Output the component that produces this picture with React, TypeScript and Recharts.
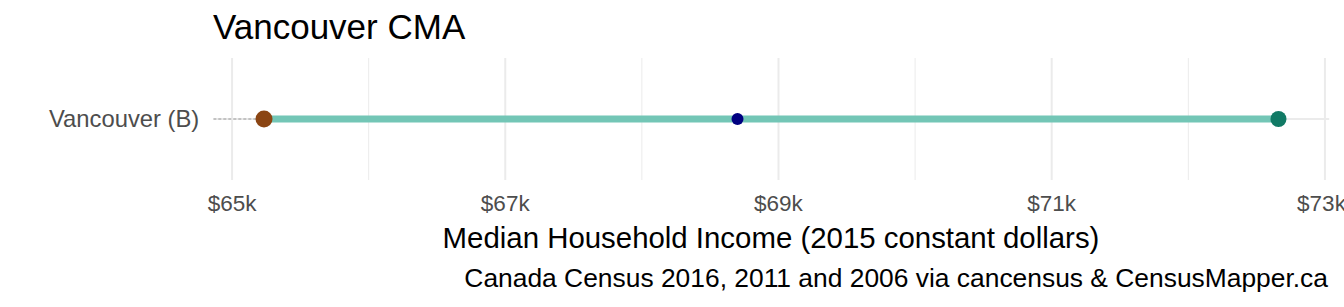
import { ScatterChart, Scatter, XAxis, YAxis, ReferenceLine } from "recharts";

const categories = ["Vancouver (B)"];
const income2016 = [65234];
const income2011 = [68700];
const income2006 = [72660];

const majorTicks = [65000, 67000, 69000, 71000, 73000];
const minorTicks = [66000, 68000, 70000, 72000];

const W = 1344;
const H = 307;
const FONT = "'Liberation Sans', Arial, Helvetica, sans-serif";
const GRID = "#ebebeb";

const allValues = [...income2016, ...income2011, ...income2006];
const lo = Math.min(...allValues);
const hi = Math.max(...allValues);
const pad = (hi - lo) * 0.05;
const domain: [number, number] = [lo - pad, hi + pad];

const rowIndex = categories.map((_, i) => i);
const pt = (vals: number[]) => vals.map((x, i) => ({ x, y: rowIndex[i] }));

const rangeData = categories.map((_, i) => [
  { x: Math.min(income2016[i], income2006[i]), y: i },
  { x: Math.max(income2016[i], income2006[i]), y: i },
]).flat();
const leadData = categories.map((_, i) => [
  { x: domain[0], y: i },
  { x: Math.min(income2016[i], income2011[i], income2006[i]), y: i },
]).flat();

const dot = (r: number, fill: string) => (p: any) => <circle cx={p.cx} cy={p.cy} r={r} fill={fill} />;
const noShape = () => <g />;

export default function App() {
  return (
    <div style={{ position: "absolute", left: 0, top: 0, width: W, height: H, background: "#fff", fontFamily: FONT }}>
      <ScatterChart width={W} height={H} margin={{ top: 58, right: 14.8, bottom: 0, left: 0 }}>
        {minorTicks.map((t) => (
          <ReferenceLine key={`mi${t}`} x={t} stroke={GRID} strokeWidth={1} />
        ))}
        {majorTicks.map((t) => (
          <ReferenceLine key={`ma${t}`} x={t} stroke={GRID} strokeWidth={2} />
        ))}
        {rowIndex.map((r) => (
          <ReferenceLine key={`row${r}`} y={r} stroke={GRID} strokeWidth={2} />
        ))}
        <XAxis
          type="number"
          dataKey="x"
          domain={domain}
          ticks={majorTicks}
          allowDataOverflow
          height={127}
          tickSize={0}
          tickMargin={15}
          axisLine={false}
          tickLine={false}
          tickFormatter={(v: number) => `$${v / 1000}k`}
          tick={{ fill: "#4d4d4d", fontSize: 22.5, fontFamily: FONT }}
        />
        <YAxis
          type="number"
          dataKey="y"
          domain={[-1, categories.length]}
          ticks={rowIndex}
          width={213.3}
          tickSize={0}
          tickMargin={14}
          axisLine={false}
          tickLine={false}
          tickFormatter={(v: number) => categories[v] ?? ""}
          tick={{ fill: "#4d4d4d", fontSize: 23.8, fontFamily: FONT }}
        />
        <Scatter
          data={leadData}
          line={{ stroke: "#9a9a9a", strokeWidth: 1, strokeDasharray: "3 2" }}
          shape={noShape}
          isAnimationActive={false}
        />
        <Scatter
          data={rangeData}
          line={{ stroke: "#73C6B6", strokeWidth: 7 }}
          shape={noShape}
          isAnimationActive={false}
        />
        <Scatter data={pt(income2016)} shape={dot(8.5, "#8B4513")} isAnimationActive={false} />
        <Scatter data={pt(income2011)} shape={dot(6, "#000080")} isAnimationActive={false} />
        <Scatter data={pt(income2006)} shape={dot(8, "#117A65")} isAnimationActive={false} />
      </ScatterChart>
      <svg width={W} height={H} style={{ position: "absolute", left: 0, top: 0, pointerEvents: "none" }}>
        <text x={213} y={39} fontSize={35} fill="#000" fontFamily={FONT}>
          Vancouver CMA
        </text>
        <text x={771} y={248} fontSize={29.4} fill="#000" textAnchor="middle" fontFamily={FONT}>
          Median Household Income (2015 constant dollars)
        </text>
        <text x={1328} y={287} fontSize={26.4} fill="#000" textAnchor="end" fontFamily={FONT}>
          Canada Census 2016, 2011 and 2006 via cancensus &amp; CensusMapper.ca
        </text>
      </svg>
    </div>
  );
}
